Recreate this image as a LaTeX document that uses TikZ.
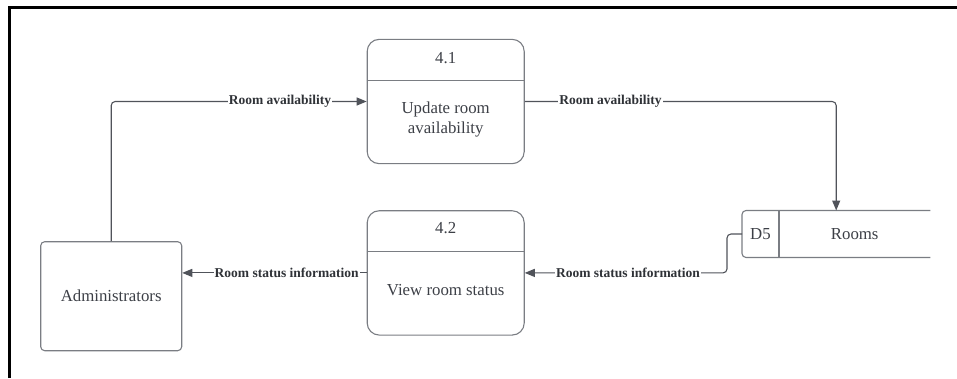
\documentclass[tikz,border=0pt]{standalone}
\usepackage{fontspec}
\setmainfont{Liberation Serif}
\usetikzlibrary{arrows.meta}
\definecolor{boxgray}{HTML}{7A7D83}
\definecolor{flowgray}{HTML}{50535A}
\definecolor{txtgray}{HTML}{3C3F46}
\definecolor{lblgray}{HTML}{2F3237}
\tikzset{
  proc/.style={draw=boxgray, line width=1.1pt, rounded corners=12pt,
    minimum width=157pt, minimum height=124.3pt, inner sep=0pt},
  ent/.style={draw=boxgray, line width=1.1pt, rounded corners=4pt,
    minimum width=141pt, minimum height=109pt, inner sep=0pt},
  boxline/.style={draw=boxgray, line width=1.1pt},
  boxtxt/.style={text=txtgray, font=\fontsize{16.8}{20}\selectfont,
    align=center, inner sep=0pt},
  lbl/.style={fill=white, text=lblgray,
    font=\bfseries\fontsize{13.5}{16}\selectfont, inner sep=1pt},
  flow/.style={draw=flowgray, line width=1.1pt, rounded corners=4pt,
    -{Triangle[length=10pt,width=8pt]}},
}
\begin{document}
\begin{tikzpicture}[x=1pt,y=-1pt]
\useasboundingbox (0,0) rectangle (957,378);

% outer frame (top and left edges)
\draw[line width=2.2pt, black] (9.5,378) -- (9.5,7.5) -- (957,7.5);

% processes
\node[proc] (p41) at (445.7,101.5) {};
\draw[boxline] ([yshift=-41.7pt]p41.north west) -- ([yshift=-41.7pt]p41.north east);
\node[boxtxt] at ([yshift=-19pt]p41.north) {4.1};
\node[boxtxt] at ([yshift=-81pt]p41.north) {Update room\\availability};

\node[proc] (p42) at (445.7,272.9) {};
\draw[boxline] ([yshift=-41pt]p42.north west) -- ([yshift=-41pt]p42.north east);
\node[boxtxt] at ([yshift=-18.3pt]p42.north) {4.2};
\node[boxtxt] at ([yshift=-80pt]p42.north) {View room status};

% external entity
\node[ent] (adm) at (111.2,296.2) {};
\node[boxtxt] at (adm.center) {Administrators};

% data store (open on the right)
\node[minimum width=188pt, minimum height=46.6pt, inner sep=0pt] (rooms) at (836.2,234) {};
\draw[boxline, rounded corners=4pt] (rooms.north east) -- (rooms.north west)
  -- (rooms.south west) -- (rooms.south east);
\draw[boxline] ([xshift=37pt]rooms.north west) -- ([xshift=37pt]rooms.south west);
\node[boxtxt] at ([xshift=18.5pt]rooms.west) {D5};
\node[boxtxt] at ([xshift=18.5pt]rooms.center) {Rooms};

% data flows
\draw[flow] (adm.north) |- (p41.west);
\draw[flow] (p41.east) -| (rooms.north);
\draw[flow] (rooms.west) -- ++(-15,0) |- (p42.east);
\draw[flow] (p42.west) -- (p42.west -| adm.east);

% flow labels
\node[lbl] (l1) at (280,101.5) {Room availability};
\node[lbl] (l2) at (610.5,101.5) {Room availability};
\node[lbl] (l3) at (628,272.9) {Room status information};
\node[lbl] (l4) at (286.7,272.9) {Room status information};
\end{tikzpicture}
\end{document}
